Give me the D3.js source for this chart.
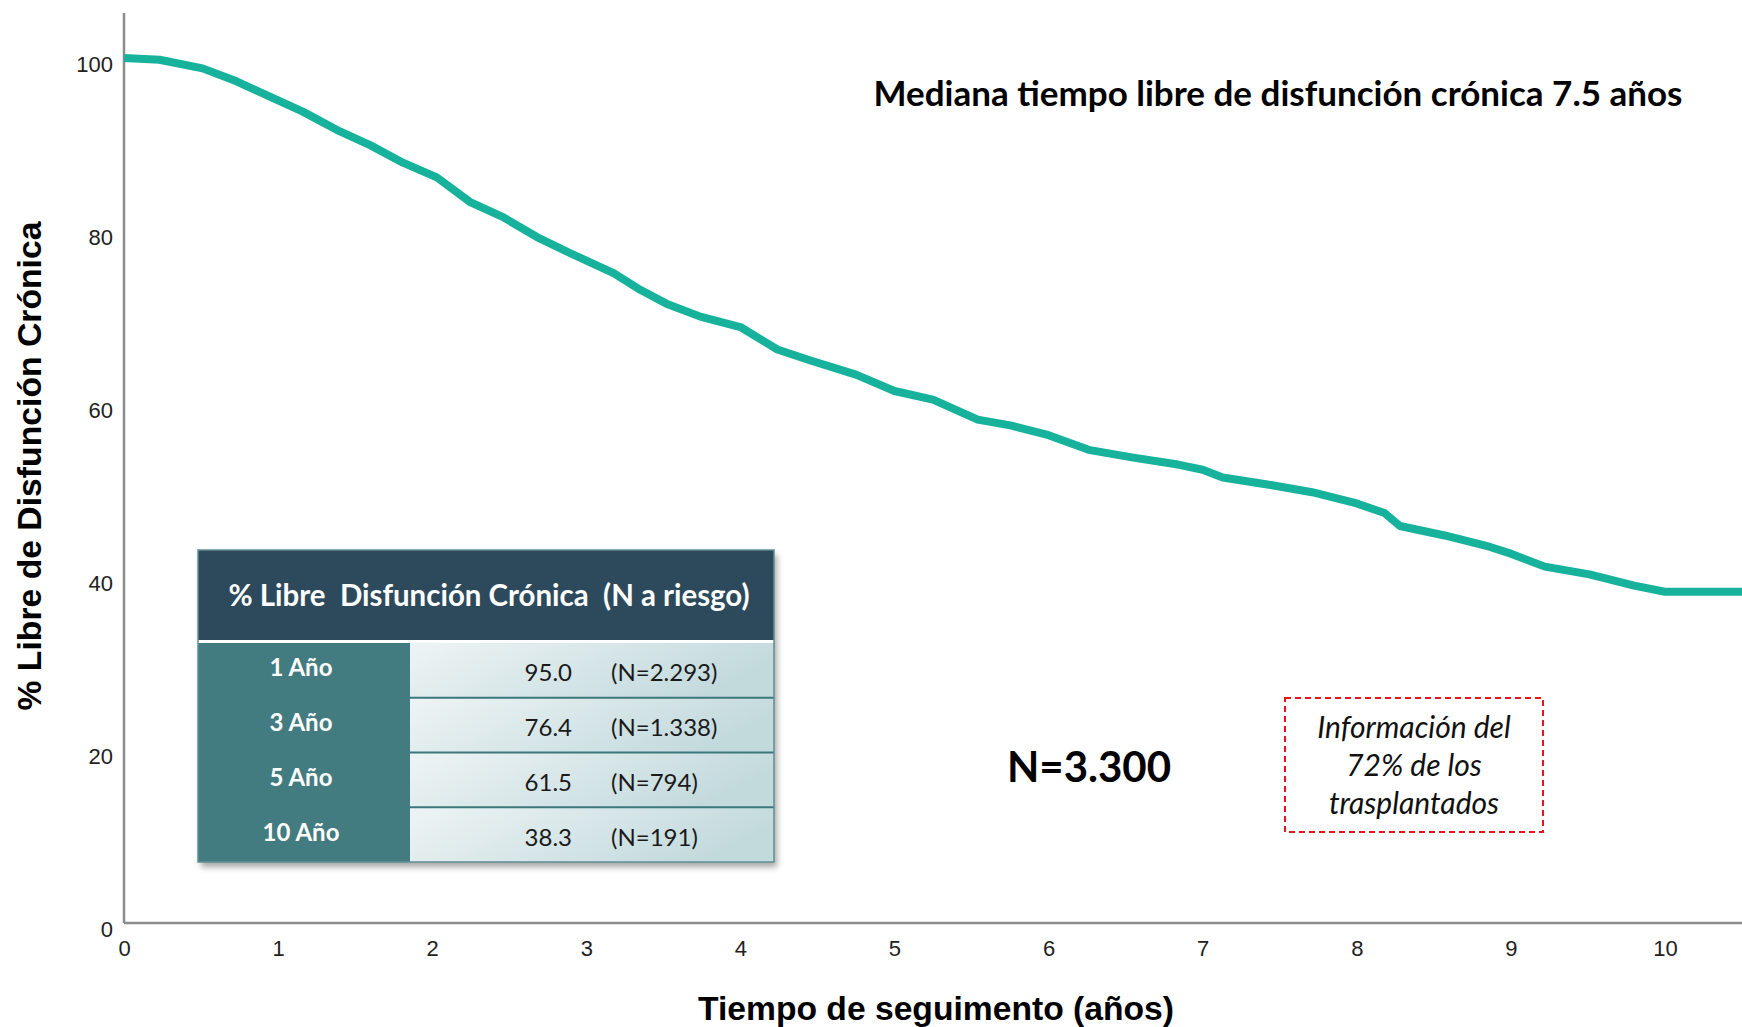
<!DOCTYPE html>
<html>
<head>
<meta charset="utf-8">
<script src="https://cdn.jsdelivr.net/npm/d3@7"></script>
<style>
  body { margin: 0; background: #fff; }
  svg { display: block; }
</style>
</head>
<body>
<div id="chart"></div>
<script>
var width = 1742,
    height = 1027;

// Kaplan-Meier curve (years, % free)
var survYears = [0, 0.23, 0.51, 0.73, 0.95, 1.16, 1.38, 1.6, 1.81, 2.03, 2.25, 2.46, 2.68, 2.9,
    3.18, 3.35, 3.52, 3.74, 4.0, 4.24, 4.46, 4.75, 5.0, 5.25, 5.54, 5.76, 6.0, 6.26, 6.55, 6.84,
    7.0, 7.13, 7.42, 7.71, 8.0, 8.18, 8.28, 8.57, 8.86, 9.0, 9.22, 9.51, 9.8, 10.0, 10.5];
var survPct = [100, 99.8, 98.8, 97.3, 95.5, 93.8, 91.7, 89.9, 87.9, 86.2, 83.3, 81.6, 79.3, 77.4,
    75.1, 73.2, 71.6, 70.1, 68.9, 66.3, 65, 63.4, 61.5, 60.5, 58.2, 57.5, 56.4, 54.7, 53.8, 53,
    52.4, 51.5, 50.7, 49.8, 48.5, 47.4, 45.9, 44.8, 43.5, 42.7, 41.2, 40.3, 39, 38.3, 38.3];

var xTicks = [0, 1, 2, 3, 4, 5, 6, 7, 8, 9, 10];
var yTicks = [0, 20, 40, 60, 80, 100];

var rowLabels = ["1 Año", "3 Año", "5 Año", "10 Año"];
var rowValues = ["95.0", "76.4", "61.5", "38.3"];
var rowN = ["(N=2.293)", "(N=1.338)", "(N=794)", "(N=191)"];

var titleText = "Mediana tiempo libre de disfunción crónica 7.5 años";
var headerText = "% Libre  Disfunción Crónica  (N a riesgo)";
var nText = "N=3.300";
var noteLines = ["Información del", "72% de los", "trasplantados"];

var svg = d3.select("#chart")
    .append("svg")
    .attr("width", width)
    .attr("height", height);

var defs = svg.append("defs");

var shadow = defs.append("filter")
    .attr("id", "shadow")
    .attr("x", "-5%").attr("y", "-5%")
    .attr("width", "115%").attr("height", "120%");
shadow.append("feDropShadow")
    .attr("dx", 3).attr("dy", 5)
    .attr("stdDeviation", 3)
    .attr("flood-color", "#000")
    .attr("flood-opacity", 0.35);

var grad = defs.append("linearGradient")
    .attr("id", "cellGrad")
    .attr("x1", "0%").attr("y1", "0%")
    .attr("x2", "100%").attr("y2", "30%");
grad.append("stop").attr("offset", "0%").attr("stop-color", "#eef4f5");
grad.append("stop").attr("offset", "100%").attr("stop-color", "#c3dadd");

var x = d3.scaleLinear().domain([0, 10.5]).range([124, 1742]);
var y = d3.scaleLinear().domain([0, 100]).range([923, 58]);

// axes
var xAxis = svg.append("g")
    .attr("transform", "translate(0," + y(0) + ")")
    .call(d3.axisBottom(x).tickValues(xTicks).tickSize(0).tickPadding(17).tickFormat(d3.format("d")));
xAxis.select(".domain").attr("stroke", "#8c8c8c").attr("stroke-width", 2.5)
    .attr("d", "M" + x(0) + ",0H" + width);
xAxis.selectAll("text")
    .style("font-family", "'Liberation Sans', Arial, sans-serif")
    .style("font-size", "22px")
    .attr("fill", "#222");

var yAxis = svg.append("g")
    .attr("transform", "translate(" + x(0) + ",0)")
    .call(d3.axisLeft(y).tickValues(yTicks).tickSize(0).tickPadding(11));
yAxis.select(".domain").attr("stroke", "#8c8c8c").attr("stroke-width", 2.5)
    .attr("d", "M0,13V" + y(0));
yAxis.selectAll("text")
    .attr("dy", "0.6em")
    .style("font-family", "'Liberation Sans', Arial, sans-serif")
    .style("font-size", "22px")
    .attr("fill", "#222");

// axis titles
svg.append("text")
    .attr("x", 936)
    .attr("y", 1020)
    .attr("text-anchor", "middle")
    .style("font-family", "'Liberation Sans', Arial, sans-serif")
    .style("font-weight", "bold")
    .style("font-size", "33px")
    .attr("textLength", 476)
    .attr("lengthAdjust", "spacingAndGlyphs")
    .text("Tiempo de seguimento (años)");

svg.append("text")
    .attr("transform", "translate(41,466) rotate(-90)")
    .attr("text-anchor", "middle")
    .style("font-family", "'Liberation Sans', Arial, sans-serif")
    .style("font-weight", "bold")
    .style("font-size", "33px")
    .attr("textLength", 489)
    .attr("lengthAdjust", "spacingAndGlyphs")
    .text("% Libre de Disfunción Crónica");

// curve
var pts = survYears.map(function (d, i) { return [d, survPct[i]]; });
svg.append("path")
    .datum(pts)
    .attr("fill", "none")
    .attr("stroke", "#17b29b")
    .attr("stroke-width", 8)
    .attr("stroke-linejoin", "round")
    .attr("d", d3.line()
        .x(function (d) { return x(d[0]); })
        .y(function (d) { return y(d[1]); }));

// title
svg.append("text")
    .attr("x", 1278)
    .attr("y", 106)
    .attr("text-anchor", "middle")
    .style("font-family", "Lato, 'Open Sans', sans-serif")
    .style("font-weight", "bold")
    .style("font-size", "34px")
    .attr("textLength", 809)
    .attr("lengthAdjust", "spacingAndGlyphs")
    .text(titleText);

// table
var tX = 198, tW = 576, tTop = 550, headH = 90, colW = 212;
var rows = d3.scaleBand().domain(rowLabels).range([tTop + headH + 3, 862]);

var table = svg.append("g");
table.append("rect")
    .attr("x", tX).attr("y", tTop)
    .attr("width", tW).attr("height", 862 - tTop)
    .attr("fill", "#fff")
    .attr("filter", "url(#shadow)");
table.append("rect")
    .attr("x", tX).attr("y", tTop)
    .attr("width", tW).attr("height", headH)
    .attr("fill", "#2d4a5d");
table.append("rect")
    .attr("x", tX).attr("y", rows.range()[0])
    .attr("width", colW).attr("height", 862 - rows.range()[0])
    .attr("fill", "#437c80");
table.selectAll(".cell")
    .data(rowLabels).enter()
    .append("rect")
    .attr("class", "cell")
    .attr("x", tX + colW).attr("y", function (d) { return rows(d); })
    .attr("width", tW - colW).attr("height", rows.bandwidth())
    .attr("fill", "url(#cellGrad)");
table.selectAll(".sep")
    .data(rowLabels.slice(1)).enter()
    .append("line")
    .attr("x1", tX + colW).attr("x2", tX + tW)
    .attr("y1", function (d) { return rows(d); })
    .attr("y2", function (d) { return rows(d); })
    .attr("stroke", "#3b777b").attr("stroke-width", 2);
table.append("rect")
    .attr("x", tX).attr("y", tTop)
    .attr("width", tW).attr("height", 862 - tTop)
    .attr("fill", "none")
    .attr("stroke", "#5f8f93").attr("stroke-width", 1.5);

table.append("text")
    .attr("x", tX + tW / 2 + 3)
    .attr("y", tTop + headH / 2 + 11)
    .attr("text-anchor", "middle")
    .attr("fill", "#fff")
    .style("white-space", "pre")
    .style("font-family", "Lato, 'Open Sans', sans-serif")
    .style("font-weight", "bold")
    .style("font-size", "30px")
    .attr("textLength", 521)
    .attr("lengthAdjust", "spacingAndGlyphs")
    .text(headerText);

table.selectAll(".rl")
    .data(rowLabels).enter()
    .append("text")
    .attr("x", tX + colW / 2 - 3)
    .attr("y", function (d) { return rows(d) + rows.bandwidth() / 2 + 6; })
    .attr("text-anchor", "middle")
    .attr("fill", "#fff")
    .style("font-family", "Lato, 'Open Sans', sans-serif")
    .style("font-weight", "bold")
    .style("font-size", "24px")
    .text(function (d) { return d; });

table.selectAll(".rv")
    .data(rowValues).enter()
    .append("text")
    .attr("x", 572)
    .attr("y", function (d, i) { return rows(rowLabels[i]) + rows.bandwidth() / 2 + 11; })
    .attr("text-anchor", "end")
    .attr("fill", "#1a1a1a")
    .style("font-family", "Lato, 'Open Sans', sans-serif")
    .style("font-size", "24px")
    .text(function (d) { return d; });

table.selectAll(".rn")
    .data(rowN).enter()
    .append("text")
    .attr("x", 611)
    .attr("y", function (d, i) { return rows(rowLabels[i]) + rows.bandwidth() / 2 + 11; })
    .attr("fill", "#1a1a1a")
    .style("font-family", "Lato, 'Open Sans', sans-serif")
    .style("font-size", "24px")
    .text(function (d) { return d; });

// N label
svg.append("text")
    .attr("x", 1089)
    .attr("y", 782)
    .attr("text-anchor", "middle")
    .style("font-family", "Lato, 'Open Sans', sans-serif")
    .style("font-weight", "bold")
    .style("font-size", "42px")
    .attr("textLength", 164)
    .text(nText);

// dashed note box
svg.append("rect")
    .attr("x", 1285).attr("y", 698)
    .attr("width", 258).attr("height", 134)
    .attr("fill", "none")
    .attr("stroke", "#e8141c")
    .attr("stroke-width", 2)
    .attr("stroke-dasharray", "6,4");

svg.selectAll(".note")
    .data(noteLines).enter()
    .append("text")
    .attr("x", 1414)
    .attr("y", function (d, i) { return 738 + i * 38; })
    .attr("text-anchor", "middle")
    .style("font-family", "Lato, 'Open Sans', sans-serif")
    .style("font-style", "italic")
    .style("font-size", "30px")
    .attr("fill", "#111")
    .text(function (d) { return d; });
</script>
</body>
</html>
